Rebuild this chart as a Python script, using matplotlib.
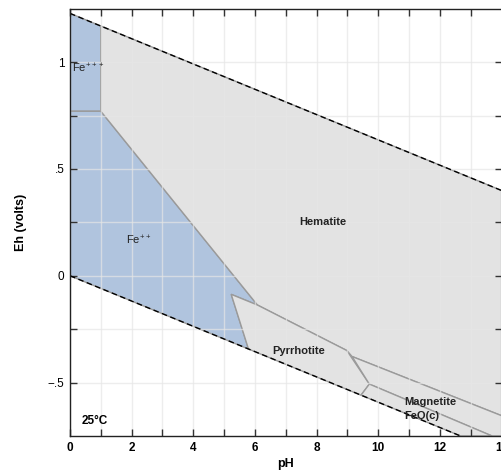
import numpy as np
import matplotlib
matplotlib.use('Agg')
import matplotlib.pyplot as plt

plt.rcParams['font.family'] = ['Liberation Sans', 'DejaVu Sans']
plt.rcParams['mathtext.default'] = 'regular'

# water stability limits (dashed)
water_hi_ph = [0, 14]
water_hi_eh = [1.228, 0.399]
water_lo_ph = [0, 12.67]
water_lo_eh = [0.0, -0.75]

# stability fields (pH, Eh vertices)
fe3_ph = [0, 1, 1, 0]
fe3_eh = [1.228, 1.169, 0.77, 0.77]
fe2_ph = [0, 1, 6.08, 5.23, 5.79, 0]
fe2_eh = [0.77, 0.77, -0.137, -0.087, -0.343, 0.0]
hem_ph = [1, 14, 14, 9.15, 8.98, 6.08, 1]
hem_eh = [1.169, 0.399, -0.655, -0.378, -0.35, -0.137, 0.77]
pyr_ph = [5.23, 6.08, 8.98, 9.71, 9.44, 5.79]
pyr_eh = [-0.087, -0.137, -0.35, -0.507, -0.559, -0.343]
mag_ph = [9.15, 14, 14, 13.69, 9.71]
mag_eh = [-0.378, -0.655, -0.75, -0.75, -0.507]
feo_ph = [9.71, 13.69, 12.67, 9.44]
feo_eh = [-0.507, -0.75, -0.75, -0.559]

labels = ['Fe$^{+++}$', 'Fe$^{++}$', 'Hematite', 'Pyrrhotite', 'Magnetite', 'FeO(c)']
label_ph = [0.05, 2.24, 8.21, 7.4, 11.7, 11.41]
label_eh = [0.97, 0.167, 0.25, -0.35, -0.593, -0.656]
label_bold = [False, False, True, True, True, True]

yticks = [-0.5, 0, 0.5, 1]
yticklabels = ['\u2212.5', '0', '.5', '1']
xticks = [0, 2, 4, 6, 8, 10, 12, 14]

blue = '#b0c4de'
grey = '#e3e3e3'
edge = '#9a9a9a'

fig = plt.figure(figsize=(5.02, 4.72), dpi=100)
ax = fig.add_axes([70 / 502, 36 / 472, 431.6 / 502, 427.3 / 472])

for px, py, c in [(fe3_ph, fe3_eh, blue), (fe2_ph, fe2_eh, blue),
                  (hem_ph, hem_eh, grey), (pyr_ph, pyr_eh, grey),
                  (mag_ph, mag_eh, grey), (feo_ph, feo_eh, grey)]:
    ax.fill(px, py, facecolor=c, edgecolor=edge, linewidth=1.0, zorder=1)

ax.plot(water_hi_ph, water_hi_eh, color='black', ls=(0, (4, 2.5)), lw=1.0, zorder=4)
ax.plot(water_lo_ph, water_lo_eh, color='black', ls=(0, (4, 2.5)), lw=1.0, zorder=4)

for t, x, y, b in zip(labels, label_ph, label_eh, label_bold):
    ha = 'left' if t.startswith('Fe$^{+++') else 'center'
    ax.text(x, y, t, ha=ha, va='center', fontsize=8,
            fontweight='bold' if b else 'normal', color='#222222', zorder=5)

ax.text(0.38, -0.682, '25°C', ha='left', va='center', fontsize=8.5,
        fontweight='bold', zorder=5)

ax.set_xlim(0, 14)
ax.set_ylim(-0.75, 1.25)
ax.set_xticks(xticks)
ax.set_xticks(np.arange(1, 14, 2), minor=True)
ax.set_yticks(yticks)
ax.set_yticklabels(yticklabels)
ax.set_yticks([-0.25, 0.25, 0.75], minor=True)
ax.grid(True, which='both', color='#e6e6e6', lw=1.0, alpha=0.7, zorder=2)
ax.set_axisbelow(False)
for l in ax.get_xgridlines() + ax.get_ygridlines():
    l.set_zorder(2)

ax.tick_params(which='both', direction='in', length=5, width=1, color='#333333',
               top=True, right=True, labelsize=8.5, pad=4)
for lab in ax.get_xticklabels():
    lab.set_fontweight('bold')

for s in ax.spines.values():
    s.set_color('#222222')
    s.set_linewidth(1.0)
    s.set_zorder(6)

ax.set_xlabel('pH', fontsize=9, fontweight='bold', labelpad=3)
ax.set_ylabel('Eh (volts)', fontsize=9, fontweight='bold', labelpad=15)

plt.savefig('out.png', dpi=100)
